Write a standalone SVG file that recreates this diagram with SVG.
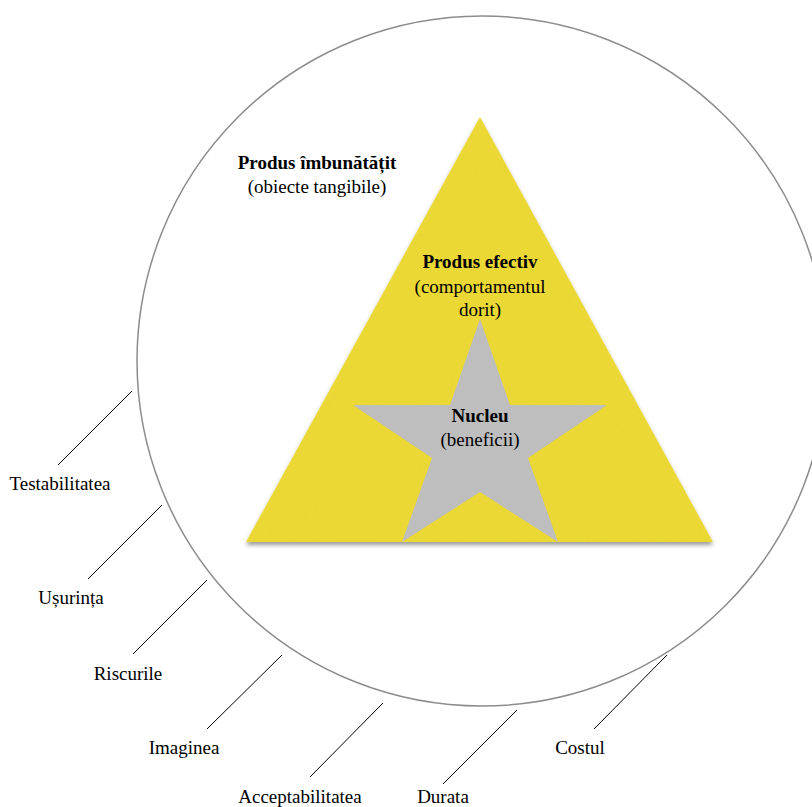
<svg xmlns="http://www.w3.org/2000/svg" width="812" height="807" viewBox="0 0 812 807">
<defs>
<style>
text{font-family:"Liberation Serif","Times New Roman",serif;font-size:19px;fill:#000;text-anchor:middle}
.b{font-weight:bold}
.lead{stroke:#000;stroke-width:1;fill:none}
</style>
<filter id="shadow" x="-10%" y="-10%" width="120%" height="125%">
<feDropShadow dx="0" dy="3" stdDeviation="2" flood-color="#000" flood-opacity="0.4"/>
</filter>
<filter id="grain" x="0" y="0" width="100%" height="100%">
<feTurbulence type="fractalNoise" baseFrequency="0.9" numOctaves="2" seed="3" result="n"/>
<feColorMatrix in="n" type="matrix" values="0 0 0 0 0.6  0 0 0 0 0.55  0 0 0 0 0.05  0 0 0 0.3 0" result="nc"/>
<feComposite in="nc" in2="SourceGraphic" operator="in" result="t"/>
<feMerge><feMergeNode in="SourceGraphic"/><feMergeNode in="t"/></feMerge>
</filter>
</defs>
<rect width="812" height="807" fill="#fff"/>
<g id="outer-circle">
<circle cx="482" cy="361" r="345" fill="none" stroke="#8c8c8c" stroke-width="1.5"/>
<text class="b" x="317" y="169">Produs îmbunătățit</text>
<text x="317" y="193">(obiecte tangibile)</text>
</g>
<g id="triangle">
<g filter="url(#shadow)"><polygon points="480,117 713,542 246,542" fill="#f0dc36" filter="url(#grain)"/></g>
<text class="b" x="480" y="268">Produs efectiv</text>
<text x="480" y="293">(comportamentul</text>
<text x="480" y="316">dorit)</text>
</g>
<g id="star">
<polygon points="480,319 510,405 607,405 528,458 558,542 480,492 402,542 432,458 353,405 450,405" fill="#bebebe"/>
<text class="b" x="480" y="422">Nucleu</text>
<text x="480" y="446">(beneficii)</text>
</g>
<g id="connectors">
<line class="lead" x1="132" y1="391" x2="58" y2="465"/>
<line class="lead" x1="162" y1="505" x2="88" y2="579"/>
<line class="lead" x1="207" y1="580" x2="133" y2="654"/>
<line class="lead" x1="282" y1="655" x2="207" y2="729"/>
<line class="lead" x1="383" y1="703" x2="310" y2="777"/>
<line class="lead" x1="517" y1="710" x2="443" y2="784"/>
<line class="lead" x1="667" y1="655" x2="594" y2="729"/>
</g>
<g id="labels">
<text x="60" y="490">Testabilitatea</text>
<text x="71" y="604">Ușurința</text>
<text x="128" y="680">Riscurile</text>
<text x="184" y="754">Imaginea</text>
<text x="300" y="803">Acceptabilitatea</text>
<text x="443" y="803">Durata</text>
<text x="580" y="754">Costul</text>
</g>
</svg>
